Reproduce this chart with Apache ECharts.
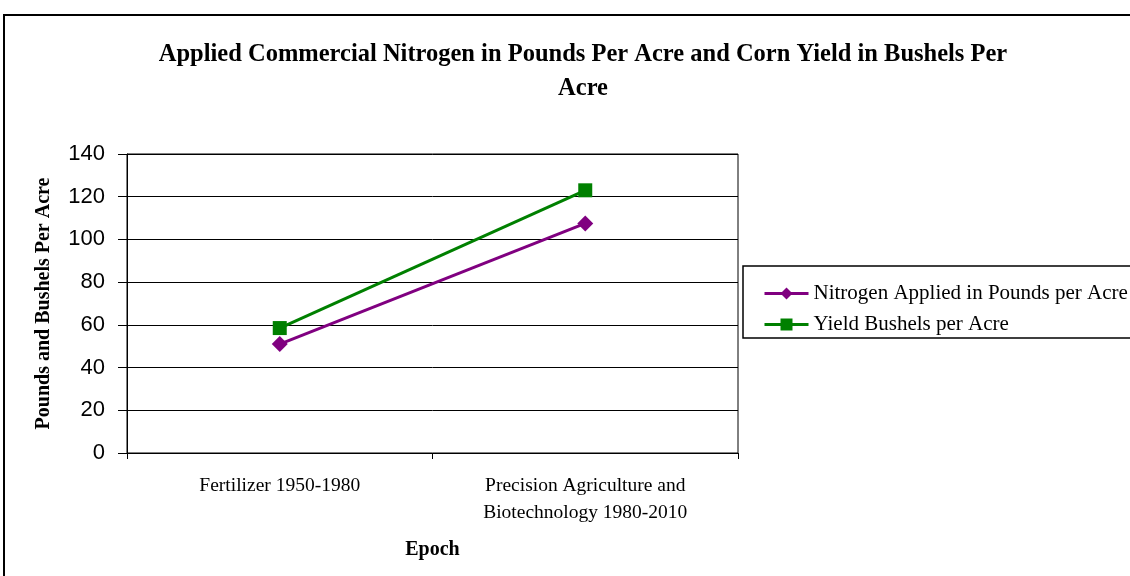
<html>
<head>
    <meta charset="utf-8">
    <script src="https://cdn.jsdelivr.net/npm/echarts@6/dist/echarts.min.js"></script>
    <style>
        body { margin: 0; background: #fff; }
        #main { width: 1130px; height: 576px; }
    </style>
</head>
<body>
    <div id="main"></div>
    <script>
        var epochs = ['Fertilizer 1950-1980', 'Precision Agriculture and\nBiotechnology 1980-2010'];
        var nitrogen = [51, 107.5];
        var yieldBu = [58.5, 123];
        var yTicks = { min: 0, max: 140, interval: 20 };

        var serif = '"Liberation Serif", "Times New Roman", serif';
        var chart = echarts.init(document.getElementById('main'));

        var option = {
            backgroundColor: '#fff',
            animation: false,
            title: {
                text: 'Applied Commercial Nitrogen in Pounds Per Acre and Corn Yield in Bushels Per\nAcre',
                left: 578,
                textAlign: 'center',
                top: 33,
                textStyle: {
                    fontFamily: serif,
                    fontWeight: 'bold',
                    fontSize: 24.5,
                    lineHeight: 34,
                    color: '#000'
                }
            },
            graphic: [
                {
                    type: 'rect',
                    shape: { x: 4, y: 15, width: 1200, height: 700 },
                    style: { fill: null, stroke: '#000', lineWidth: 2 }
                },
                {
                    type: 'rect',
                    shape: { x: 743, y: 266, width: 420, height: 72 },
                    style: { fill: null, stroke: '#000', lineWidth: 1.5 }
                }
            ],
            legend: {
                orient: 'vertical',
                left: 758,
                top: 278,
                itemWidth: 44,
                itemHeight: 15,
                itemGap: 10,
                lineStyle: { width: 3 },
                textStyle: { fontFamily: serif, fontSize: 21, color: '#000' },
                data: ['Nitrogen Applied in Pounds per Acre', 'Yield Bushels per Acre']
            },
            grid: {
                left: 127, right: 392, top: 154, bottom: 123,
                show: true, borderColor: '#000', borderWidth: 1
            },
            xAxis: {
                type: 'category',
                data: epochs,
                name: 'Epoch',
                nameLocation: 'middle',
                nameGap: 87,
                nameTextStyle: { fontFamily: serif, fontWeight: 'bold', fontSize: 20, color: '#000' },
                axisLine: { lineStyle: { color: '#000', width: 1 } },
                axisTick: { show: true, length: 6, lineStyle: { color: '#000' } },
                axisLabel: {
                    fontFamily: serif, fontSize: 19.5, color: '#000',
                    margin: 19, lineHeight: 27, align: 'center'
                }
            },
            yAxis: {
                type: 'value',
                min: yTicks.min,
                max: yTicks.max,
                interval: yTicks.interval,
                name: 'Pounds and Bushels Per Acre',
                nameLocation: 'middle',
                nameGap: 73,
                nameTextStyle: { fontFamily: serif, fontWeight: 'bold', fontSize: 20, color: '#000' },
                axisLine: { show: true, lineStyle: { color: '#000', width: 1 } },
                axisTick: { show: true, length: 9, lineStyle: { color: '#000' } },
                axisLabel: { fontFamily: '"Liberation Sans", Arial, sans-serif', fontSize: 22, color: '#000', margin: 22 },
                splitLine: { lineStyle: { color: '#000', width: 1 } }
            },
            series: [
                {
                    name: 'Nitrogen Applied in Pounds per Acre',
                    type: 'line',
                    data: nitrogen,
                    symbol: 'diamond',
                    symbolSize: 16,
                    color: '#800080',
                    lineStyle: { width: 3, color: '#800080' },
                    itemStyle: { color: '#800080' }
                },
                {
                    name: 'Yield Bushels per Acre',
                    type: 'line',
                    data: yieldBu,
                    symbol: 'rect',
                    symbolSize: 14,
                    color: '#008000',
                    lineStyle: { width: 3, color: '#008000' },
                    itemStyle: { color: '#008000' }
                }
            ]
        };

        chart.setOption(option);
    </script>
</body>
</html>
